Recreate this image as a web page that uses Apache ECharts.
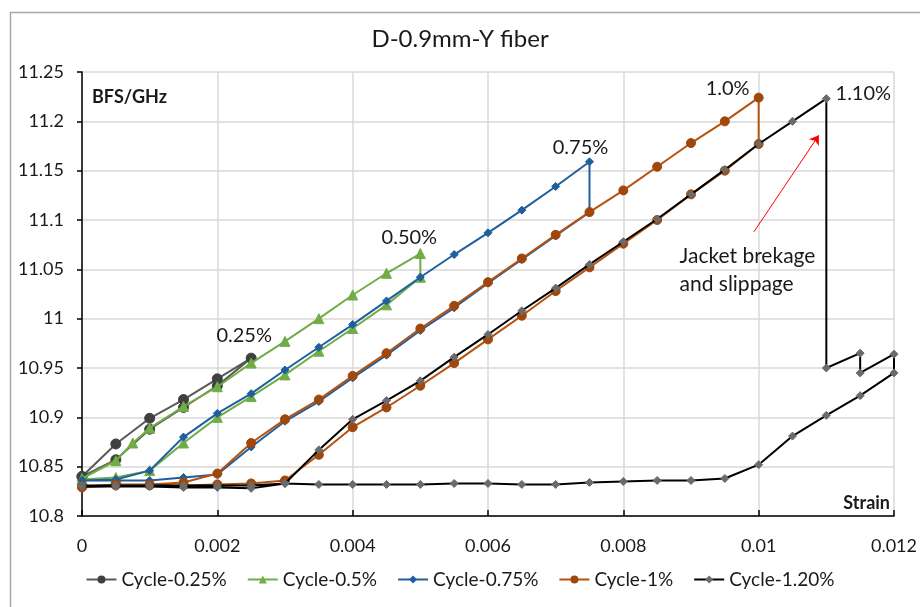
<!DOCTYPE html>
<html>
<head>
<meta charset="utf-8">
<script src="https://cdn.jsdelivr.net/npm/echarts@6/dist/echarts.min.js"></script>
<style>
html,body{margin:0;padding:0;background:#fff;}
#chart{width:920px;height:607px;}
</style>
</head>
<body>
<div id="chart"></div>
<script>
// ---- data ----
var seriesNames = ['Cycle-0.25%', 'Cycle-0.5%', 'Cycle-0.75%', 'Cycle-1%', 'Cycle-1.20%'];

var strain025 = [0, 0.0005, 0.001, 0.0015, 0.002, 0.0025, 0.002, 0.0015, 0.001, 0.0005, 0];
var bfs025 = [10.840, 10.857, 10.888, 10.910, 10.932, 10.960, 10.939, 10.918, 10.899, 10.873, 10.840];

var strain05 = [0, 0.0005, 0.001, 0.0015, 0.002, 0.0025, 0.003, 0.0035, 0.004, 0.0045, 0.005, 0.005, 0.0045, 0.004, 0.0035, 0.003, 0.0025, 0.002, 0.0015, 0.001, 0.00075, 0.0005, 0];
var bfs05 = [10.837, 10.839, 10.846, 10.874, 10.900, 10.921, 10.943, 10.967, 10.990, 11.014, 11.042, 11.066, 11.046, 11.024, 11.000, 10.977, 10.955, 10.931, 10.911, 10.889, 10.874, 10.856, 10.838];

var strain075 = [0, 0.0005, 0.001, 0.0015, 0.002, 0.0025, 0.003, 0.0035, 0.004, 0.0045, 0.005, 0.0055, 0.006, 0.0065, 0.007, 0.0075, 0.0075, 0.007, 0.0065, 0.006, 0.0055, 0.005, 0.0045, 0.004, 0.0035, 0.003, 0.0025, 0.002, 0.0015, 0.001, 0.0005, 0];
var bfs075 = [10.836, 10.837, 10.846, 10.880, 10.904, 10.924, 10.948, 10.971, 10.994, 11.018, 11.042, 11.065, 11.087, 11.110, 11.134, 11.159, 11.108, 11.084, 11.060, 11.036, 11.011, 10.988, 10.963, 10.940, 10.916, 10.896, 10.870, 10.842, 10.839, 10.836, 10.836, 10.836];

var strain1 = [0, 0.0005, 0.001, 0.0015, 0.002, 0.0025, 0.003, 0.0035, 0.004, 0.0045, 0.005, 0.0055, 0.006, 0.0065, 0.007, 0.0075, 0.008, 0.0085, 0.009, 0.0095, 0.01, 0.01, 0.0095, 0.009, 0.0085, 0.008, 0.0075, 0.007, 0.0065, 0.006, 0.0055, 0.005, 0.0045, 0.004, 0.0035, 0.003, 0.0025, 0.002, 0.0015, 0.001, 0.0005, 0];
var bfs1 = [10.830, 10.832, 10.832, 10.834, 10.843, 10.874, 10.898, 10.918, 10.942, 10.965, 10.990, 11.013, 11.037, 11.061, 11.085, 11.108, 11.130, 11.154, 11.178, 11.200, 11.224, 11.177, 11.150, 11.126, 11.100, 11.076, 11.052, 11.028, 11.003, 10.979, 10.955, 10.932, 10.910, 10.890, 10.862, 10.836, 10.833, 10.832, 10.831, 10.831, 10.831, 10.829];

var strain12 = [0, 0.0005, 0.001, 0.0015, 0.002, 0.0025, 0.003, 0.0035, 0.004, 0.0045, 0.005, 0.0055, 0.006, 0.0065, 0.007, 0.0075, 0.008, 0.0085, 0.009, 0.0095, 0.01, 0.0105, 0.011, 0.011, 0.0115, 0.0115, 0.012, 0.012, 0.0115, 0.011, 0.0105, 0.01, 0.0095, 0.009, 0.0085, 0.008, 0.0075, 0.007, 0.0065, 0.006, 0.0055, 0.005, 0.0045, 0.004, 0.0035, 0.003, 0.0025, 0.002, 0.0015, 0.001, 0.0005, 0];
var bfs12 = [10.831, 10.831, 10.831, 10.831, 10.831, 10.831, 10.833, 10.867, 10.898, 10.917, 10.937, 10.961, 10.984, 11.008, 11.031, 11.055, 11.078, 11.101, 11.126, 11.151, 11.177, 11.200, 11.223, 10.950, 10.965, 10.945, 10.964, 10.945, 10.922, 10.902, 10.881, 10.852, 10.838, 10.836, 10.836, 10.835, 10.834, 10.832, 10.832, 10.833, 10.833, 10.832, 10.832, 10.832, 10.832, 10.833, 10.828, 10.829, 10.829, 10.830, 10.830, 10.830];

var xTicks = [0, 0.002, 0.004, 0.006, 0.008, 0.01, 0.012];
var yTicks = [10.8, 10.85, 10.9, 10.95, 11, 11.05, 11.1, 11.15, 11.2, 11.25];

// annotation labels anchored at data points
var annoText = ['0.25%', '0.50%', '0.75%', '1.0%', '1.10%'];
var annoX = [0.0025, 0.005, 0.0075, 0.01, 0.011];
var annoY = [10.960, 11.066, 11.159, 11.224, 11.223];
var noteLines = ['Jacket brekage', 'and slippage'];
var noteX = 0.00883;
var noteY = [11.063, 11.035];
var arrowFrom = [0.00993, 11.088];
var arrowTo = [0.01089, 11.186];

function pairs(xs, ys) { return xs.map(function (x, i) { return [x, ys[i]]; }); }

var FONT = 'Lato, "Open Sans", sans-serif';
var chart = echarts.init(document.getElementById('chart'));

var colors = ['#595959', '#70ad47', '#1f5f9e', '#b5520f', '#000000'];
var markerColors = ['#404040', '#70ad47', '#1f5f9e', '#9e480e', '#6b6b6b'];
var symbols = ['circle', 'triangle', 'diamond', 'circle', 'diamond'];
var symbolSizes = [10, 10, 8, 9, 8];
var dataSets = [pairs(strain025, bfs025), pairs(strain05, bfs05), pairs(strain075, bfs075), pairs(strain1, bfs1), pairs(strain12, bfs12)];

var series = dataSets.map(function (d, i) {
  var s = {
    name: seriesNames[i],
    type: 'line',
    data: d,
    symbol: symbols[i],
    symbolSize: symbolSizes[i],
    showAllSymbol: true,
    lineStyle: { color: colors[i], width: 2 },
    itemStyle: { color: markerColors[i], borderColor: markerColors[i] },
    z: 2 + i,
    animation: false
  };
  if (i === 4) {
    s.markLine = {
      silent: true,
      symbol: ['none', 'arrow'],
      symbolSize: 9,
      label: { show: false },
      lineStyle: { color: '#ff0000', width: 1, type: 'solid' },
      data: [[{ coord: arrowFrom }, { coord: arrowTo }]]
    };
  }
  return s;
});

var option = {
  backgroundColor: '#fff',
  animation: false,
  title: {
    text: 'D-0.9mm-Y fiber',
    left: 'center',
    top: 22,
    textStyle: { fontFamily: FONT, fontSize: 24, fontWeight: 'normal', color: '#1a1a1a' }
  },
  legend: {
    bottom: 13,
    left: 'center',
    itemWidth: 30,
    itemHeight: 10,
    itemGap: 20,
    textStyle: { fontFamily: FONT, fontSize: 19, color: '#1a1a1a' },
    data: seriesNames
  },
  grid: { left: 82, right: 23, top: 72, bottom: 91, containLabel: false },
  xAxis: {
    type: 'value',
    min: xTicks[0],
    max: xTicks[xTicks.length - 1],
    interval: xTicks[1] - xTicks[0],
    axisLine: { onZero: false, lineStyle: { color: '#000', width: 1.5 } },
    axisTick: { show: true, inside: true, length: 6, lineStyle: { color: '#000', width: 1.5 } },
    axisLabel: { margin: 21, fontFamily: FONT, fontSize: 18, color: '#1a1a1a' },
    splitLine: { show: true, lineStyle: { color: '#d9d9d9', width: 1.5 } }
  },
  yAxis: {
    type: 'value',
    min: yTicks[0],
    max: yTicks[yTicks.length - 1],
    interval: 0.05,
    axisLine: { onZero: false, lineStyle: { color: '#000', width: 1.5 } },
    axisTick: { show: true, inside: false, length: 5, lineStyle: { color: '#000', width: 1.5 } },
    axisLabel: { margin: 18, fontFamily: FONT, fontSize: 18, color: '#1a1a1a' },
    splitLine: { show: true, lineStyle: { color: '#d9d9d9', width: 1.5 } }
  },
  series: series
};
chart.setOption(option);

// text annotations placed through the chart's own coordinate conversion
var g = [];
g.push({ type: 'rect', left: 8, top: 10, shape: { width: 940, height: 640 }, style: { fill: 'none', stroke: '#a6a6a6', lineWidth: 1.5 }, silent: true, z: 0 });
var offsets = [[-7, -23], [-11, -16], [-9, -14], [-31, -9], [37, -5]];
annoText.forEach(function (t, i) {
  var p = chart.convertToPixel({ gridIndex: 0 }, [annoX[i], annoY[i]]);
  g.push({ type: 'text', x: p[0] + offsets[i][0], y: p[1] + offsets[i][1], style: { text: t, font: '20px ' + FONT, fill: '#1a1a1a', textAlign: 'center', textVerticalAlign: 'middle' }, z: 10 });
});
noteLines.forEach(function (t, i) {
  var p = chart.convertToPixel({ gridIndex: 0 }, [noteX, noteY[i]]);
  g.push({ type: 'text', x: p[0], y: p[1], style: { text: t, font: '21px ' + FONT, fill: '#1a1a1a', textAlign: 'left', textVerticalAlign: 'middle' }, z: 10 });
});
var topLeft = chart.convertToPixel({ gridIndex: 0 }, [xTicks[0], yTicks[yTicks.length - 1]]);
var botRight = chart.convertToPixel({ gridIndex: 0 }, [xTicks[xTicks.length - 1], yTicks[0]]);
g.push({ type: 'text', x: topLeft[0] + 10, y: topLeft[1] + 25, style: { text: 'BFS/GHz', font: 'bold 18px ' + FONT, fill: '#1a1a1a', textAlign: 'left', textVerticalAlign: 'middle' }, z: 10 });
g.push({ type: 'text', x: botRight[0] - 4, y: botRight[1] - 13, style: { text: 'Strain', font: 'bold 18px ' + FONT, fill: '#1a1a1a', textAlign: 'right', textVerticalAlign: 'middle' }, z: 10 });
chart.setOption({ graphic: g });
</script>
</body>
</html>
